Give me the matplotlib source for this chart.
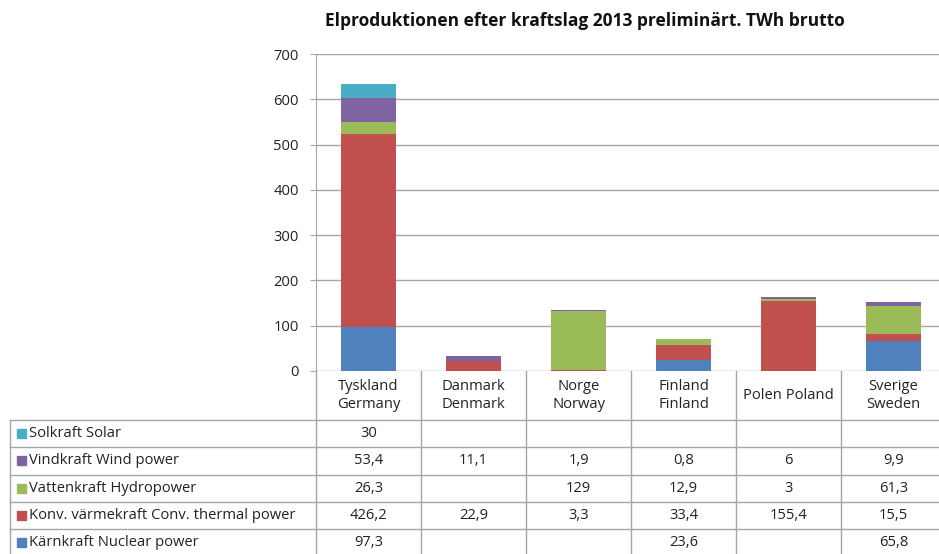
import numpy as np
import matplotlib
matplotlib.use("Agg")
from matplotlib import pyplot as plt
from matplotlib.lines import Line2D
from matplotlib.patches import Rectangle

plt.rcParams['font.family'] = ['Open Sans', 'DejaVu Sans']

countries = ["Tyskland\nGermany", "Danmark\nDenmark", "Norge\nNorway",
             "Finland\nFinland", "Polen Poland", "Sverige\nSweden"]
series_names = ["Kärnkraft Nuclear power", "Konv. värmekraft Conv. thermal power",
                "Vattenkraft Hydropower", "Vindkraft Wind power", "Solkraft Solar"]
nuclear = [97.3, None, None, 23.6, None, 65.8]
thermal = [426.2, 22.9, 3.3, 33.4, 155.4, 15.5]
hydro = [26.3, None, 129, 12.9, 3, 61.3]
wind = [53.4, 11.1, 1.9, 0.8, 6, 9.9]
solar = [30, None, None, None, None, None]
colors = ["#4F81BD", "#C0504D", "#9BBB59", "#8064A2", "#4BACC6"]
yticks = [0, 100, 200, 300, 400, 500, 600, 700]

W, H = 939, 554
fig = plt.figure(figsize=(W / 100, H / 100), dpi=100)

# pixel layout
x0, colw = 316, 105
ytop, ybot = 54, 371
hdr_bot = 420
rowh = 27.3
leg_left = 10
grid_c = "#A6A6A6"
txt_c = "#222222"
fs = 10.6

ax = fig.add_axes([x0 / W, (H - ybot) / H, 6 * colw / W, (ybot - ytop) / H])
ax.set_xlim(-0.5, 5.5)
ax.set_ylim(0, 700)

data = [nuclear, thermal, hydro, wind, solar]
x = np.arange(len(countries))
bottom = np.zeros(len(countries))
for vals, c in zip(data, colors):
    v = np.array([0 if a is None else a for a in vals], dtype=float)
    ax.bar(x, v, bottom=bottom, width=0.52, color=c, zorder=3)
    bottom += v

ax.set_yticks(yticks)
ax.yaxis.grid(True, color=grid_c, linewidth=1)
ax.set_axisbelow(True)
ax.set_xticks([])
for s in ["top", "right", "bottom"]:
    ax.spines[s].set_visible(False)
ax.spines["left"].set_color(grid_c)
ax.tick_params(axis="y", length=4, color=grid_c, labelsize=fs, pad=8.5)
for lab in ax.get_yticklabels():
    lab.set_color(txt_c)

fig.text(585 / W, 1 - 21 / H, "Elproduktionen efter kraftslag 2013 preliminärt. TWh brutto",
         ha="center", va="center", fontsize=12.5, fontweight="bold", color="#111111")

# data table below the plot, in pixel coordinates
tax = fig.add_axes([0, 0, 1, 1], zorder=-1)
tax.set_xlim(0, W)
tax.set_ylim(H, 0)
tax.axis("off")

def hline(xa, xb, y):
    tax.add_line(Line2D([xa, xb], [y, y], color=grid_c, lw=1))

def vline(xv, ya, yb):
    tax.add_line(Line2D([xv, xv], [ya, yb], color=grid_c, lw=1))

xr = x0 + 6 * colw
vline(x0, ybot, H + 5)
for i in range(1, 7):
    vline(x0 + i * colw, ybot, H + 5)
vline(leg_left, hdr_bot, H + 5)
hline(leg_left, xr, hdr_bot)
for r in range(1, 6):
    hline(leg_left, xr, hdr_bot + r * rowh)

for i, name in enumerate(countries):
    tax.text(x0 + (i + 0.5) * colw, (ybot + hdr_bot) / 2, name, ha="center",
             va="center", fontsize=fs, color=txt_c, linespacing=1.3)

rows = list(zip(series_names, data, colors))[::-1]
for r, (name, vals, c) in enumerate(rows):
    yc = hdr_bot + (r + 0.5) * rowh
    tax.add_patch(Rectangle((17, yc - 4.5), 9, 9, color=c))
    tax.text(29, yc, name, ha="left", va="center", fontsize=fs, color=txt_c)
    for i, v in enumerate(vals):
        if v is None:
            continue
        s = ("%g" % v).replace(".", ",")
        tax.text(x0 + (i + 0.5) * colw, yc, s, ha="center", va="center",
                 fontsize=fs, color=txt_c)

fig.savefig("out.png", dpi=100)
